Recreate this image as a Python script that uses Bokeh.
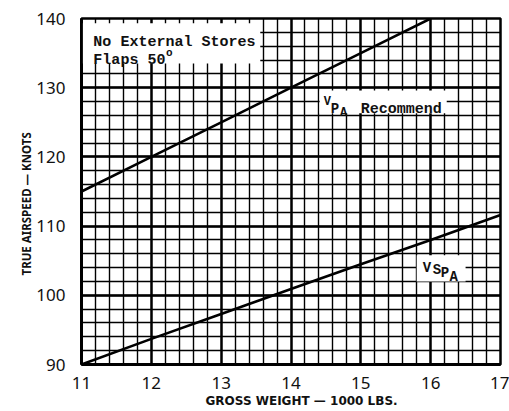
from bokeh.plotting import figure
from bokeh.models import (Range1d, SingleIntervalTicker, Label, BoxAnnotation, Title)
from bokeh.embed import file_html
from bokeh.resources import INLINE

# ---- data ----
weights_vpa = [11, 12, 13, 14, 15, 16]
vpa_recommend = [115, 120, 125, 130, 135, 140]
weights_vspa = [11, 12, 13, 14, 15, 16, 17]
vspa = [90, 93.7, 97.3, 100.9, 104.5, 108.0, 111.6]
x_ticks = [11, 12, 13, 14, 15, 16, 17]
y_ticks = [90, 100, 110, 120, 130, 140]
x_title = "GROSS WEIGHT \u2014 1000 LBS."
y_title = "TRUE AIRSPEED \u2014 KNOTS"

MONO = "Liberation Mono"
SANS = "Noto Sans"

p = figure(width=509, height=411, output_backend="svg", toolbar_location=None,
           x_range=Range1d(11, 17), y_range=Range1d(90, 140),
           min_border_left=81, min_border_right=9, min_border_top=18,
           min_border_bottom=47, background_fill_color="white",
           border_fill_color="white")

p.outline_line_color = "black"
p.outline_line_width = 2.5

# axes
p.xaxis.ticker = SingleIntervalTicker(interval=1, num_minor_ticks=5)
p.yaxis.ticker = SingleIntervalTicker(interval=10, num_minor_ticks=5)
for ax in (p.xaxis[0], p.yaxis[0]):
    ax.axis_line_color = "black"
    ax.axis_line_width = 3
    ax.major_tick_line_color = None
    ax.minor_tick_line_color = None
    ax.major_label_text_font = SANS
    ax.major_label_text_font_size = "17px"
    ax.major_label_text_color = "#111111"
p.xaxis.major_label_standoff = 6
p.yaxis.major_label_standoff = 10

# axis titles as side titles (offset like the original)
p.add_layout(Title(text=x_title, align="left", offset=124, standoff=0,
                   text_font="DejaVu Sans", text_font_style="bold",
                   text_font_size="12px", text_color="#111111"), "below")
p.add_layout(Title(text=y_title, align="left", offset=89, standoff=0,
                   text_font=SANS, text_font_style="bold",
                   text_font_size="11.5px", text_color="#111111"), "left")

# grid
for g in (p.xgrid[0], p.ygrid[0]):
    g.grid_line_color = "black"
    g.grid_line_width = 2.4
    g.minor_grid_line_color = "black"
    g.minor_grid_line_width = 1.4
p.xgrid.ticker = p.xaxis[0].ticker
p.ygrid.ticker = p.yaxis[0].ticker

# curves
p.line(weights_vpa, vpa_recommend, line_color="black", line_width=2.6)
p.line(weights_vspa, vspa, line_color="black", line_width=2.6)

# white label boxes
p.add_layout(BoxAnnotation(left=11.02, right=13.56, top=139.3, bottom=133.5,
                           fill_color="white", fill_alpha=1, line_color=None))
p.add_layout(BoxAnnotation(left=14.41, right=16.23, top=129.6, bottom=126.3,
                           fill_color="white", fill_alpha=1, line_color=None))
p.add_layout(BoxAnnotation(left=15.80, right=16.50, top=105.8, bottom=102.0,
                           fill_color="white", fill_alpha=1, line_color=None))

def lab(x, y, t, size, font=MONO):
    p.add_layout(Label(x=x, y=y, text=t, text_font=font,
                       text_font_size=size, text_color="#111111",
                       text_font_style="bold",
                       text_baseline="alphabetic", text_align="left"))

lab(11.17, 136.5, "No External Stores", "15px")
lab(11.17, 133.95, "Flaps 50", "15px")
lab(12.21, 135.0, "o", "11px")

lab(14.47, 127.9, "V", "12px")
lab(14.57, 126.9, "P", "14px")
lab(14.70, 126.4, "A", "12px")
lab(15.00, 126.9, "Recommend", "15px")

lab(15.886, 104.0, "V", "14px")
lab(16.029, 103.7, "S", "14px")
lab(16.143, 103.2, "P", "14px")
lab(16.271, 102.7, "A", "14px")

open("out.html", "w").write(file_html(p, INLINE))
